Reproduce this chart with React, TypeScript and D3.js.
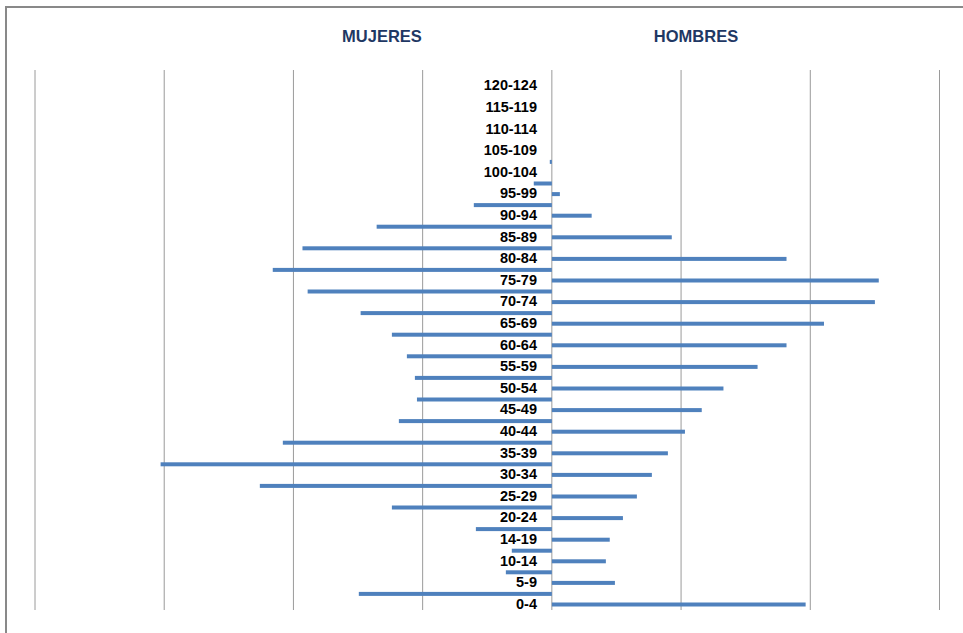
import React from "react";
import * as d3 from "d3";

// age groups, bottom to top
const ageGroups = [
  "0-4", "5-9", "10-14", "14-19", "20-24", "25-29", "30-34", "35-39",
  "40-44", "45-49", "50-54", "55-59", "60-64", "65-69", "70-74", "75-79",
  "80-84", "85-89", "90-94", "95-99", "100-104", "105-109", "110-114",
  "115-119", "120-124",
];

const women = [
  747, 178, 155, 294, 619, 1130, 1514, 1041, 592, 522, 530, 561, 619, 740,
  945, 1080, 965, 678, 302, 70, 8, 0, 0, 0, 0,
];

const men = [
  982, 244, 209, 224, 275, 329, 387, 449, 515, 580, 664, 796, 908, 1053,
  1250, 1265, 908, 464, 154, 31, 0, 0, 0, 0, 0,
];

const gridTicks = [-2000, -1500, -1000, -500, 0, 500, 1000, 1500];

const W = 963;
const H = 633;
const barColor = "#4f81bd";
const font = "'Liberation Sans', Arial, sans-serif";

const App = () => {
  const x = d3.scaleLinear().domain([-2000, 1500]).range([35, 939.5]);
  const y = d3
    .scaleBand<string>()
    .domain([...ageGroups].reverse())
    .range([70, 610])
    .padding(0);

  const half = y.bandwidth() / 2;
  const barH = 4;

  return (
    <svg
      width={W}
      height={H}
      style={{ position: "absolute", left: 0, top: 0, background: "#fff" }}
    >
      <rect x={6} y={7} width={1000} height={700} fill="#fff" stroke="#898989" strokeWidth={2} />

      <text x={382} y={42} textAnchor="middle" fontFamily={font} fontWeight="bold" fontSize={16.5} fill="#1f3864">
        MUJERES
      </text>
      <text x={696} y={42} textAnchor="middle" fontFamily={font} fontWeight="bold" fontSize={16.5} fill="#1f3864">
        HOMBRES
      </text>

      {gridTicks.map((t) => (
        <line key={t} x1={x(t)} x2={x(t)} y1={70} y2={610} stroke="#9a9a9a" strokeWidth={1} />
      ))}

      {ageGroups.map((g, i) => {
        const c = (y(g) as number) + half;
        return (
          <g key={g}>
            {women[i] > 0 && (
              <rect
                x={x(-women[i])}
                y={c - 5.3 - barH / 2}
                width={x(0) - x(-women[i])}
                height={barH}
                fill={barColor}
              />
            )}
            {men[i] > 0 && (
              <rect
                x={x(0)}
                y={c + 5.3 - barH / 2}
                width={x(men[i]) - x(0)}
                height={barH}
                fill={barColor}
              />
            )}
            <text
              x={537}
              y={c + 4.5}
              dy="0.35em"
              textAnchor="end"
              fontFamily={font}
              fontWeight="bold"
              fontSize={14.5}
              fill="#000"
            >
              {g}
            </text>
          </g>
        );
      })}
    </svg>
  );
};

export default App;
